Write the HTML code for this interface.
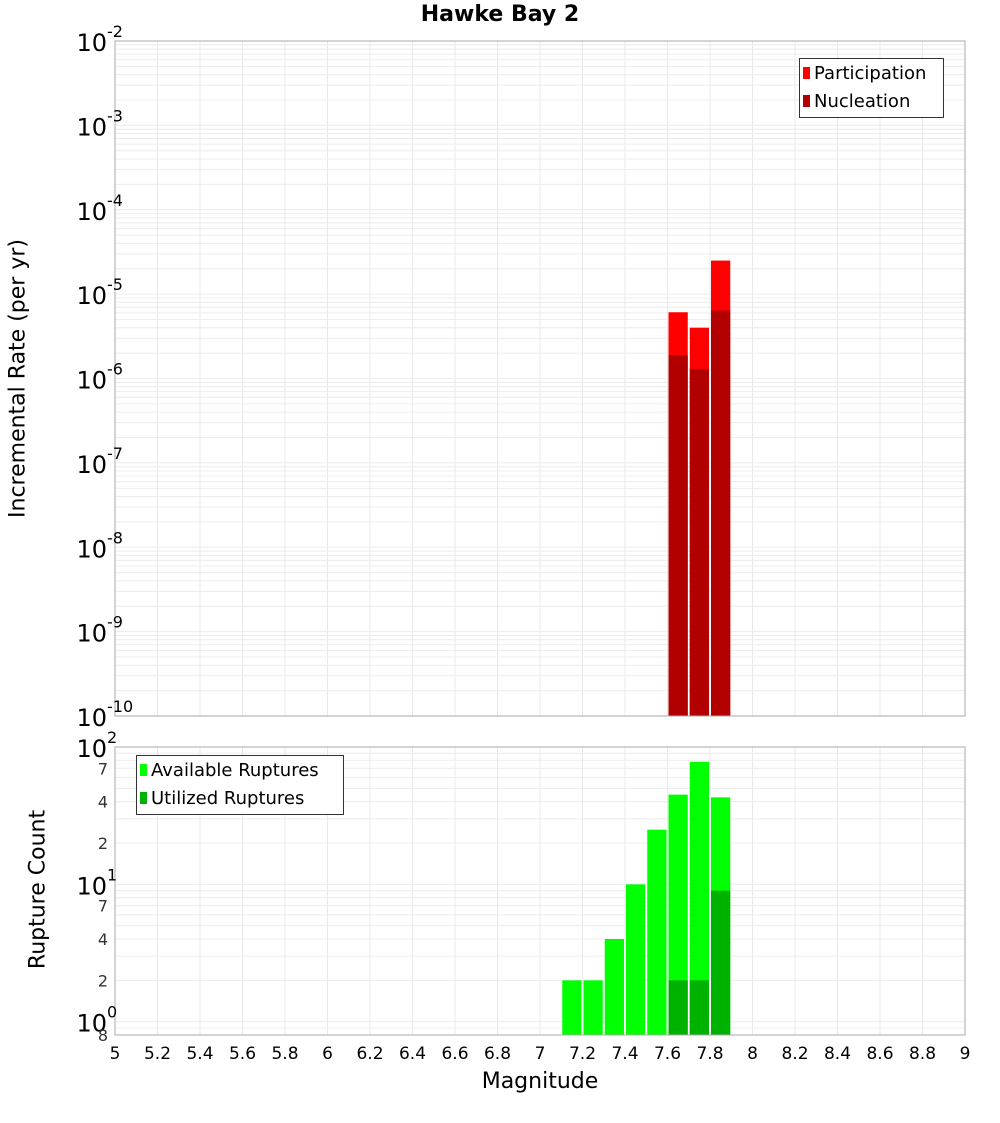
<!DOCTYPE html>
<html><head><meta charset="utf-8"><style>
body{margin:0;background:#fff;}
svg text{font-family:"DejaVu Sans","Liberation Sans",sans-serif;}
</style></head><body>
<svg id="chart" width="1000" height="1100" xmlns="http://www.w3.org/2000/svg"></svg>
<script>
const binCenters = [7.15, 7.25, 7.35, 7.45, 7.55, 7.65, 7.75, 7.85];
const participation = [0, 0, 0, 0, 0, 6.1e-6, 4.0e-6, 2.5e-5];
const nucleation = [0, 0, 0, 0, 0, 1.9e-6, 1.3e-6, 6.4e-6];
const available = [2, 2, 4, 10, 25, 45, 78, 43];
const utilized = [0, 0, 0, 0, 0, 2, 2, 9];
const xTicks = [5,5.2,5.4,5.6,5.8,6,6.2,6.4,6.6,6.8,7,7.2,7.4,7.6,7.8,8,8.2,8.4,8.6,8.8,9];
const topExps = [-2,-3,-4,-5,-6,-7,-8,-9,-10];
const botMinor = [2,4,7,20,40,70];

const svg = document.getElementById('chart');
const NS = 'http://www.w3.org/2000/svg';
function mk(tag, attrs, parent){const e=document.createElementNS(NS,tag);for(const k in attrs)e.setAttribute(k,attrs[k]);(parent||svg).appendChild(e);return e;}

const X0=115,X1=965;
const x = m => X0 + (m-5)/4*(X1-X0);
const T0=41,T1=716;
const yTop = v => T0 + (-2 - Math.log10(v))/8*(T1-T0);
const B0=747,B1=1035, bMin=Math.log10(0.8), bMax=2;
const yBot = v => B0 + (bMax - Math.log10(v))/(bMax-bMin)*(B1-B0);

// grids
const g = mk('g',{});


xTicks.forEach(t=>{
  mk('line',{x1:x(t),x2:x(t),y1:T0,y2:T1,stroke:'#e8e8e8'},g);
  mk('line',{x1:x(t),x2:x(t),y1:B0,y2:B1,stroke:'#e8e8e8'},g);
});
for(let e=-10;e<-2;e++){for(let k=1;k<10;k++){const v=k*Math.pow(10,e);mk('line',{x1:X0,x2:X1,y1:yTop(v),y2:yTop(v),stroke:'#ececec'},g);}}
[0.8,0.9,1,2,3,4,5,6,7,8,9,10,20,30,40,50,60,70,80,90].forEach(v=>{mk('line',{x1:X0,x2:X1,y1:yBot(v),y2:yBot(v),stroke:'#ececec'},g);});

// top bars
const bw = x(5.1)-x(5)-2;
binCenters.forEach((c,i)=>{
  if(participation[i]>0){const r=mk('rect',{x:x(c)-bw/2,y:yTop(participation[i]),width:bw,height:T1-yTop(participation[i]),fill:'#ff0000'});
    }
  if(nucleation[i]>0){const r=mk('rect',{x:x(c)-bw/2,y:yTop(nucleation[i]),width:bw,height:T1-yTop(nucleation[i]),fill:'#b20000'});
    }
  if(available[i]>0){const r=mk('rect',{x:x(c)-bw/2,y:yBot(available[i]),width:bw,height:B1-yBot(available[i]),fill:'#00ff00'});
    }
  if(utilized[i]>0){const r=mk('rect',{x:x(c)-bw/2,y:yBot(utilized[i]),width:bw,height:B1-yBot(utilized[i]),fill:'#00b200'});
    }
});

// frames
mk('rect',{x:X0,y:T0,width:X1-X0,height:T1-T0,fill:'none',stroke:'#aaa'});
mk('rect',{x:X0,y:B0,width:X1-X0,height:B1-B0,fill:'none',stroke:'#aaa'});

// top y labels
topExps.forEach(e=>{
  const y=yTop(Math.pow(10,e));
  const t=mk('text',{x:107,y:y+10,'text-anchor':'end','font-size':24});
  
  t.textContent='10';
  const s=mk('text',{x:107,y:y-4,'font-size':16});
  
  s.textContent=String(e);
});
// bottom y labels
[[2,'2'],[1,'1'],[0,'0']].forEach(([e,s])=>{
  const y=yBot(Math.pow(10,e));
  const t=mk('text',{x:107,y:y+10,'text-anchor':'end','font-size':24});
  
  t.textContent='10';
  const u=mk('text',{x:107,y:y-4,'font-size':16});
  
  u.textContent=s;
});
botMinor.concat([0.8]).forEach(v=>{
  const t=mk('text',{x:108,y:yBot(v)+6,'text-anchor':'end','font-size':16,fill:'#333'});
  
  t.textContent=String(v<1?8:(v>=10?v/10:v));
});
// x labels
xTicks.forEach(m=>{
  const t=mk('text',{x:x(m),y:1059,'text-anchor':'middle','font-size':17});
  
  t.textContent=String(m);
});
</script>
<svg width="0" height="0"></svg>
<div style="position:absolute;left:0;top:0;width:1000px;height:1100px;pointer-events:none">
<div style="position:absolute;left:0;width:1000px;top:2px;text-align:center;font:bold 22px 'DejaVu Sans','Liberation Sans',sans-serif;">Hawke Bay 2</div>
<div style="position:absolute;left:440px;width:200px;top:1069px;text-align:center;font:22px 'DejaVu Sans','Liberation Sans',sans-serif;">Magnitude</div>
<div style="position:absolute;left:-132px;top:366px;width:300px;text-align:center;transform:rotate(-90deg);font:22px 'DejaVu Sans','Liberation Sans',sans-serif;">Incremental Rate (per yr)</div>
<div style="position:absolute;left:-62px;top:877px;width:200px;text-align:center;transform:rotate(-90deg);font:22px 'DejaVu Sans','Liberation Sans',sans-serif;">Rupture Count</div>
<div style="position:absolute;left:799px;top:58px;width:143px;height:58px;border:1px solid #333;background:#fff;font:18px 'DejaVu Sans','Liberation Sans',sans-serif;">
 <div style="position:absolute;left:3px;top:4px;white-space:nowrap"><span style="display:inline-block;width:7px;height:12px;background:#f00;margin-right:4px"></span>Participation</div>
 <div style="position:absolute;left:3px;top:32px;white-space:nowrap"><span style="display:inline-block;width:7px;height:12px;background:#b20000;margin-right:4px"></span>Nucleation</div>
</div>
<div style="position:absolute;left:136px;top:755px;width:206px;height:58px;border:1px solid #333;background:#fff;font:18px 'DejaVu Sans','Liberation Sans',sans-serif;">
 <div style="position:absolute;left:3px;top:4px;white-space:nowrap"><span style="display:inline-block;width:7px;height:12px;background:#0f0;margin-right:4px"></span>Available Ruptures</div>
 <div style="position:absolute;left:3px;top:32px;white-space:nowrap"><span style="display:inline-block;width:7px;height:12px;background:#00b200;margin-right:4px"></span>Utilized Ruptures</div>
</div>
</div>
</body></html>
